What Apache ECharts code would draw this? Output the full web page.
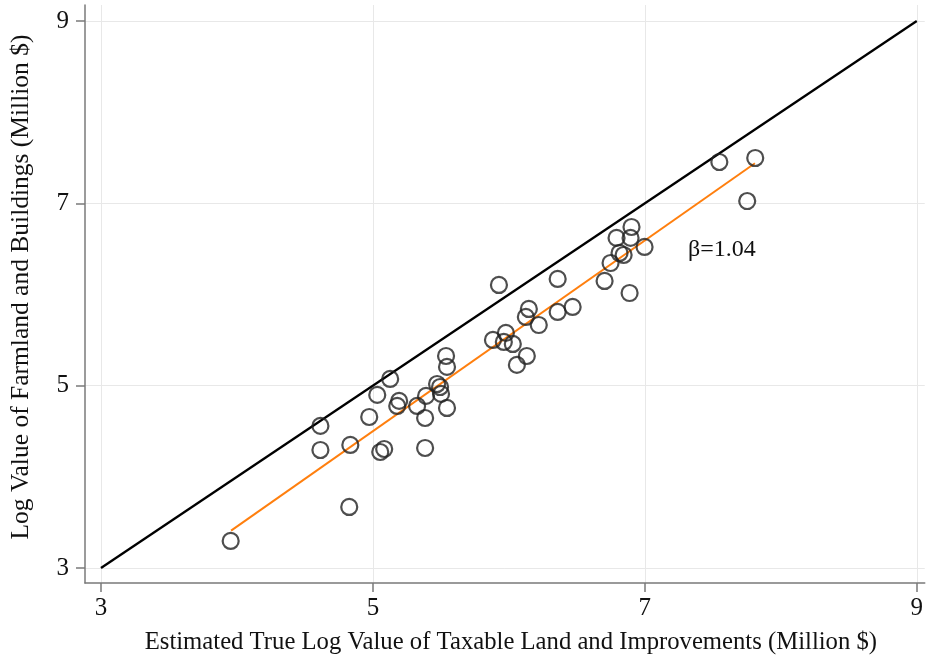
<!DOCTYPE html>
<html>
<head>
<meta charset="utf-8">
<script src="https://cdn.jsdelivr.net/npm/echarts@6/dist/echarts.min.js"></script>
<style>
  html, body { margin: 0; padding: 0; background: #fff; }
  #chart { width: 926px; height: 664px; }
</style>
</head>
<body>
<div id="chart"></div>
<script>
// Observations: estimated true log value (x) vs log value of farmland & buildings (y)
var xVals = [3.954, 4.826, 4.614, 4.834, 4.614, 5.054, 5.083, 4.973, 5.032, 5.127,
             5.179, 5.193, 5.325, 5.384, 5.384, 5.391, 5.472, 5.494, 5.501, 5.545,
             5.545, 5.538, 5.927, 5.883, 5.978, 5.963, 6.029, 6.132, 6.059, 6.147,
             6.125, 6.220, 6.359, 6.359, 6.469, 6.704, 6.748, 6.814, 6.844, 6.792,
             6.895, 6.902, 6.998, 6.888, 7.548, 7.812, 7.753];
var yVals = [3.296, 3.669, 4.294, 4.349, 4.558, 4.272, 4.305, 4.656, 4.898, 5.073,
             4.777, 4.832, 4.777, 4.645, 4.316, 4.887, 5.018, 4.985, 4.909, 4.755,
             5.205, 5.325, 6.104, 5.501, 5.578, 5.479, 5.457, 5.325, 5.227, 5.841,
             5.753, 5.665, 6.170, 5.808, 5.863, 6.148, 6.345, 6.455, 6.433, 6.620,
             6.620, 6.740, 6.521, 6.016, 7.453, 7.497, 7.025];
// 45-degree reference line endpoints
var refX = [3, 9];
var refY = [3, 9];
// Fitted regression line endpoints
var fitX = [3.957, 7.810];
var fitY = [3.409, 7.439];
var tickVals = [3, 5, 7, 9];
var betaText = 'β=1.04';
var xTitle = 'Estimated True Log Value of Taxable Land and Improvements (Million $)';
var yTitle = 'Log Value of Farmland and Buildings (Million $)';

function pairs(a, b) { return a.map(function (v, i) { return [v, b[i]]; }); }

var font = '"Liberation Serif", "Times New Roman", serif';
var axisCol = '#7a7a7a';
var gridCol = '#e8e8e8';

var chart = echarts.init(document.getElementById('chart'), null, { renderer: 'canvas' });
chart.setOption({
  animation: false,
  backgroundColor: '#fff',
  grid: { left: 84, right: 0, top: 5, bottom: 81, containLabel: false },
  xAxis: {
    type: 'value', min: 2.8826, max: 9.0587,
    name: xTitle, nameLocation: 'middle', nameGap: 47,
    nameTextStyle: { fontFamily: font, fontSize: 24.7, color: '#111', padding: [0, 0, 0, 12] },
    axisLine: { show: true, lineStyle: { color: axisCol, width: 1.5 } },
    axisTick: { show: true, length: 9, customValues: tickVals, lineStyle: { color: axisCol, width: 1.5 } },
    axisLabel: { customValues: tickVals, margin: 13, fontFamily: font, fontSize: 25, color: '#111' },
    splitLine: { show: true, lineStyle: { color: gridCol, width: 1 } }
  },
  yAxis: {
    type: 'value', min: 2.835, max: 9.175,
    name: yTitle, nameLocation: 'middle', nameGap: 51, nameRotate: 90,
    nameTextStyle: { fontFamily: font, fontSize: 25.5, color: '#111', padding: [0, 0, 0, 14] },
    axisLine: { show: true, lineStyle: { color: axisCol, width: 1.5 } },
    axisTick: { show: true, length: 9, customValues: tickVals, lineStyle: { color: axisCol, width: 1.5 } },
    axisLabel: { customValues: tickVals, margin: 16, fontFamily: font, fontSize: 25, color: '#111' },
    splitLine: { show: true, lineStyle: { color: gridCol, width: 1 } }
  },
  graphic: [{
    type: 'text', left: 688, top: 238,
    style: { text: betaText, font: '24px ' + font, fill: '#111' }
  }],
  series: [
    {
      type: 'line', data: pairs(refX, refY), showSymbol: false, symbol: 'none',
      lineStyle: { color: '#000', width: 2.3 }, z: 2, silent: true
    },
    {
      type: 'line', data: pairs(fitX, fitY), showSymbol: false, symbol: 'none',
      lineStyle: { color: '#ff7f0e', width: 2 }, z: 3, silent: true
    },
    {
      type: 'scatter', data: pairs(xVals, yVals), symbol: 'circle', symbolSize: 16,
      itemStyle: { color: 'rgba(0,0,0,0)', borderColor: '#222', borderWidth: 2.2 }, z: 4
    }
  ]
});
</script>
</body>
</html>
